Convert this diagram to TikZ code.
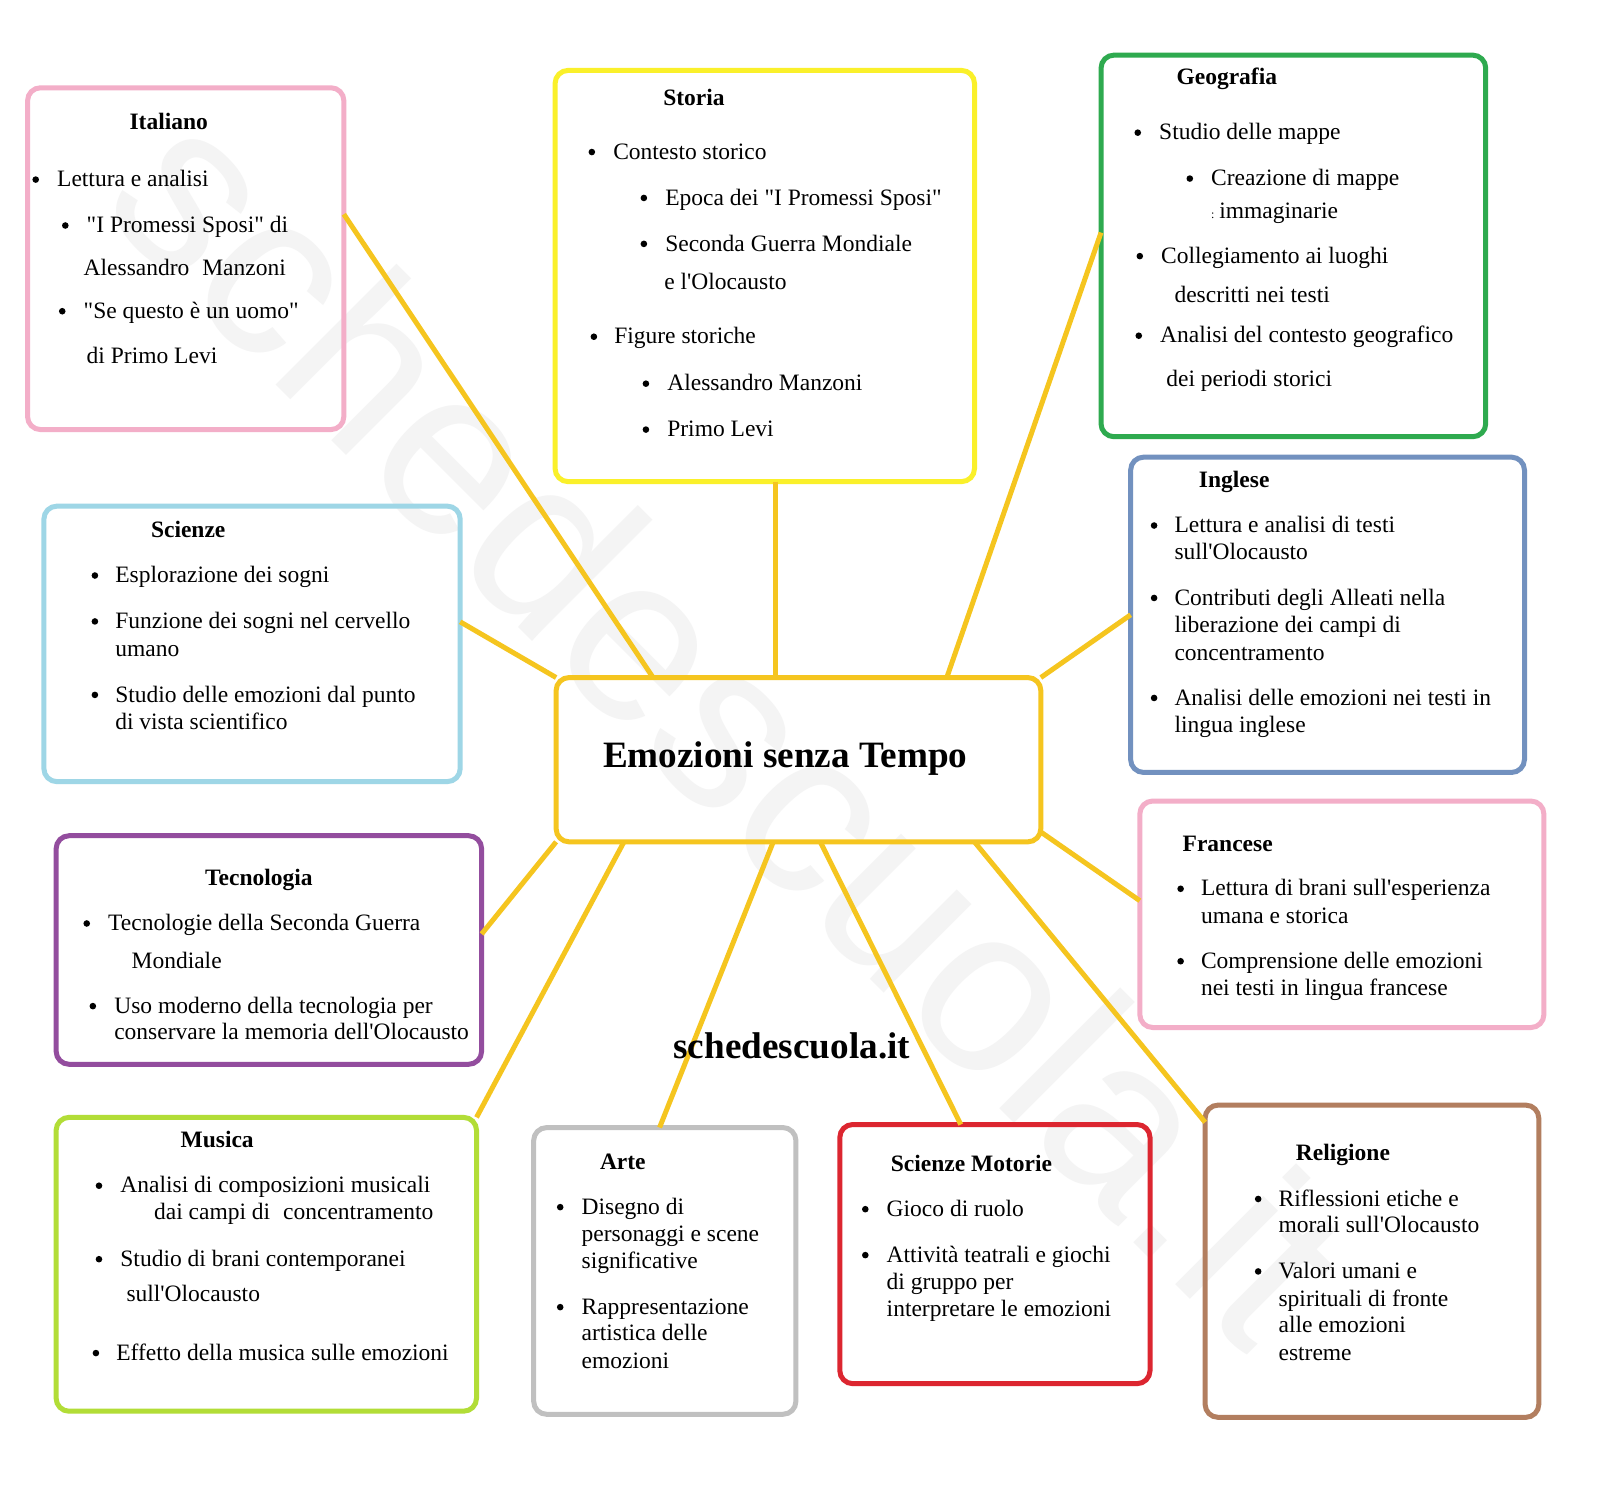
\documentclass[tikz,border=0pt]{standalone}
\usepackage{fontspec}
\setmainfont{Liberation Serif}[Ligatures=TeXOff]
\newfontfamily\wmfont{Liberation Sans}
\usetikzlibrary{calc,fit}
\definecolor{cpink}{HTML}{F3AEC8}
\definecolor{cyel}{HTML}{FAF02A}
\definecolor{cgreen}{HTML}{2EAA4F}
\definecolor{cblue}{HTML}{7291BF}
\definecolor{clblue}{HTML}{9ED6E6}
\definecolor{cpurple}{HTML}{934D9E}
\definecolor{clime}{HTML}{B2DD37}
\definecolor{cgray}{HTML}{C0C0C0}
\definecolor{cred}{HTML}{DC2630}
\definecolor{cbrown}{HTML}{B27E5F}
\definecolor{cgold}{HTML}{F5C51F}
\definecolor{cwm}{HTML}{F4F4F4}
\newcommand\Bxx[6]{\coordinate (#1-a) at (#3,#4); \coordinate (#1-b) at (#5,#6); \node[subj=#2, fit=(#1-a)(#1-b)] (#1) {};}
\newcommand\Tx[4]{\node[txt] (#1) at (#2,#3) {#4};}
\newcommand\Bt[5]{\node[blt] (#1-dot) at (#2,#4-7) {}; \node[txt] (#1) at (#3,#4) {#5};}
\begin{document}
\begin{tikzpicture}[x=1.0204bp,y=-1.0204bp,
  txt/.style={anchor=base west, inner sep=0pt, outer sep=0pt, font=\fontsize{23.5bp}{28bp}\selectfont},
  ttl/.style={anchor=base west, inner sep=0pt, outer sep=0pt, font=\bfseries\fontsize{23.5bp}{28bp}\selectfont},
  blt/.style={circle, fill=black, inner sep=0pt, outer sep=0pt, minimum size=6.6bp},
  big/.style={anchor=base west, inner sep=0pt, outer sep=0pt, font=\bfseries\fontsize{37.2bp}{40bp}\selectfont},
  subj/.style={draw=#1, line width=5bp, rounded corners=13bp, inner sep=0pt, outer sep=0pt},
  conn/.style={draw=cgold, line width=5bp},
  wm/.style={inner sep=0pt, text=cwm, font=\wmfont\fontsize{236bp}{236bp}\selectfont}
]
\path[fill=white] (0,0) rectangle (1568,1469);
\useasboundingbox (0,0) rectangle (1568,1469);

% watermark
\node[wm, rotate=-45] (wmark) at (718,708) {schedescuola.it};

% boxes
\Bxx{cen}{cgold}{545}{664}{1020}{825}
\Bxx{ital}{cpink}{27}{86}{337}{421}
\Bxx{sto}{cyel}{544}{69}{955}{472}
\Bxx{geo}{cgreen}{1079}{54}{1456}{428}
\Bxx{ing}{cblue}{1108}{448}{1494}{757}
\Bxx{fra}{cpink}{1117}{785}{1513}{1007}
\Bxx{sci}{clblue}{43}{496}{451}{766}
\Bxx{tec}{cpurple}{55}{819}{472}{1043}
\Bxx{mus}{clime}{55}{1095}{467}{1383}
\Bxx{art}{cgray}{523}{1105}{780}{1386}
\Bxx{mot}{cred}{823}{1102}{1127}{1356}
\Bxx{rel}{cbrown}{1181}{1083}{1508}{1389}

% connectors
\draw[conn] ($(ital.north east)!0.37!(ital.south east)$) -- ($(cen.north west)!0.2!(cen.north east)$);
\coordinate (stoc) at ($(sto.south west)!0.526!(sto.south east)$);
\draw[conn] (stoc) -- (stoc |- cen.north);
\draw[conn] ($(geo.north west)!0.465!(geo.south west)$) -- ($(cen.north west)!0.806!(cen.north east)$);
\draw[conn] ($(ing.north west)!0.5!(ing.south west)$) -- (cen.north east);
\draw[conn] ($(cen.north east)!0.94!(cen.south east)$) -- ($(fra.north west)!0.44!(fra.south west)$);
\draw[conn] ($(sci.north east)!0.42!(sci.south east)$) -- (cen.north west);
\draw[conn] (cen.south west) -- ($(tec.north east)!0.43!(tec.south east)$);
\draw[conn] ($(cen.south west)!0.14!(cen.south east)$) -- (mus.north east);
\draw[conn] ($(cen.south west)!0.448!(cen.south east)$) -- ($(art.north west)!0.48!(art.north east)$);
\draw[conn] ($(cen.south west)!0.545!(cen.south east)$) -- ($(mot.north west)!0.39!(mot.north east)$);
\draw[conn] ($(cen.south west)!0.863!(cen.south east)$) -- ($(rel.north west)!0.055!(rel.south west)$);

% center
\node[big] (title) at (591,752) {Emozioni senza Tempo};
\node[big] (site) at (660,1037) {schedescuola.it};

% Italiano
\node[ttl] (ital-t) at (127,127) {Italiano};
\Bt{ital1}{35}{56}{183}{Lettura e analisi}
\Bt{ital2}{64}{85}{228}{"I Promessi Sposi" di}
\Tx{ital3}{82}{270}{Alessandro\hspace{0.3em} Manzoni}
\Bt{ital4}{61}{82}{312}{"Se questo è un uomo"}
\Tx{ital5}{85}{356}{di Primo Levi}

% Storia
\node[ttl] (sto-t) at (650,103) {Storia};
\Bt{sto1}{580}{601}{156}{Contesto storico}
\Bt{sto2}{631}{652}{201}{Epoca dei "I Promessi Sposi"}
\Bt{sto3}{631}{652}{246}{Seconda Guerra Mondiale}
\Tx{sto4}{651}{284}{e l'Olocausto}
\Bt{sto5}{582}{602}{337}{Figure storiche}
\Bt{sto6}{633}{654}{383}{Alessandro Manzoni}
\Bt{sto7}{633}{654}{428}{Primo Levi}

% Geografia
\node[ttl] (geo-t) at (1153,83) {Geografia};
\Bt{geo1}{1115}{1136}{137}{Studio delle mappe}
\Bt{geo2}{1166}{1187}{182}{Creazione di mappe}
\Tx{geo3}{1187}{214}{{\fontsize{12bp}{12bp}\selectfont:}\hspace{0.2em}immaginarie}
\Bt{geo4}{1117}{1138}{258}{Collegiamento ai luoghi}
\Tx{geo5}{1151}{296}{descritti nei testi}
\Bt{geo6}{1116}{1137}{336}{Analisi del contesto geografico}
\Tx{geo7}{1143}{379}{dei periodi storici}

% Inglese
\node[ttl] (ing-t) at (1175,478) {Inglese};
\Bt{ing1}{1131}{1151}{522}{Lettura e analisi di testi}
\Tx{ing2}{1151}{548}{sull'Olocausto}
\Bt{ing3}{1131}{1151}{593}{Contributi degli Alleati nella}
\Tx{ing4}{1151}{620}{liberazione dei campi di}
\Tx{ing5}{1151}{647}{concentramento}
\Bt{ing6}{1131}{1151}{691}{Analisi delle emozioni nei testi in}
\Tx{ing7}{1151}{718}{lingua inglese}

% Francese
\node[ttl] (fra-t) at (1159,834) {Francese};
\Bt{fra1}{1157}{1177}{878}{Lettura di brani sull'esperienza}
\Tx{fra2}{1177}{905}{umana e storica}
\Bt{fra3}{1157}{1177}{949}{Comprensione delle emozioni}
\Tx{fra4}{1177}{976}{nei testi in lingua francese}

% Scienze
\node[ttl] (sci-t) at (148,527) {Scienze};
\Bt{sci1}{93}{113}{571}{Esplorazione dei sogni}
\Bt{sci2}{93}{113}{616}{Funzione dei sogni nel cervello}
\Tx{sci3}{113}{643}{umano}
\Bt{sci4}{93}{113}{688}{Studio delle emozioni dal punto}
\Tx{sci5}{113}{715}{di vista scientifico}

% Tecnologia
\node[ttl] (tec-t) at (201,868) {Tecnologia};
\Bt{tec1}{85}{106}{912}{Tecnologie della Seconda Guerra}
\Tx{tec2}{129}{949}{Mondiale}
\Bt{tec3}{91}{112}{993}{Uso moderno della tecnologia per}
\Tx{tec4}{112}{1019}{conservare la memoria dell'Olocausto}

% Musica
\node[ttl] (mus-t) at (177,1125) {Musica};
\Bt{mus1}{97}{118}{1169}{Analisi di composizioni musicali}
\Tx{mus2}{151}{1195}{dai campi di\hspace{0.3em} concentramento}
\Bt{mus3}{97}{118}{1241}{Studio di brani contemporanei}
\Tx{mus4}{124}{1275}{sull'Olocausto}
\Bt{mus5}{94}{114}{1333}{Effetto della musica sulle emozioni}

% Arte
\node[ttl] (art-t) at (588,1146) {Arte};
\Bt{art1}{549}{570}{1190}{Disegno di}
\Tx{art2}{570}{1217}{personaggi e scene}
\Tx{art3}{570}{1243}{significative}
\Bt{art4}{549}{570}{1288}{Rappresentazione}
\Tx{art5}{570}{1314}{artistica delle}
\Tx{art6}{570}{1341}{emozioni}

% Scienze Motorie
\node[ttl] (mot-t) at (873,1148) {Scienze Motorie};
\Bt{mot1}{848}{869}{1192}{Gioco di ruolo}
\Bt{mot2}{848}{869}{1237}{Attività teatrali e giochi}
\Tx{mot3}{869}{1264}{di gruppo per}
\Tx{mot4}{869}{1290}{interpretare le emozioni}

% Religione
\node[ttl] (rel-t) at (1270,1137) {Religione};
\Bt{rel1}{1233}{1253}{1182}{Riflessioni etiche e}
\Tx{rel2}{1253}{1208}{morali sull'Olocausto}
\Bt{rel3}{1233}{1253}{1253}{Valori umani e}
\Tx{rel4}{1253}{1280}{spirituali di fronte}
\Tx{rel5}{1253}{1306}{alle emozioni}
\Tx{rel6}{1253}{1333}{estreme}
\end{tikzpicture}
\end{document}
